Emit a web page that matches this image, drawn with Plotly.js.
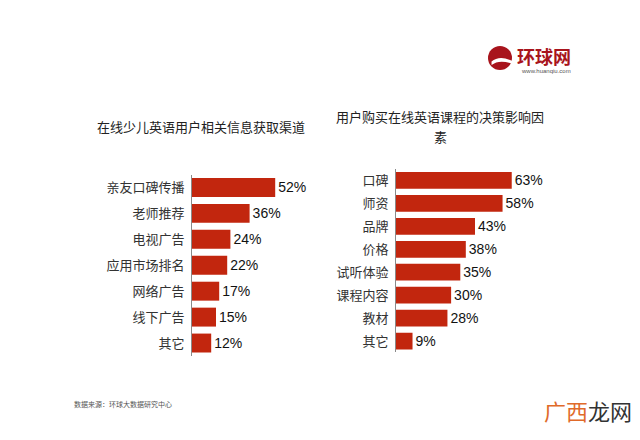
<!DOCTYPE html>
<html><head><meta charset="utf-8">
<script src="https://cdn.plot.ly/plotly-3.0.1.min.js"></script>
<style>html,body{margin:0;padding:0;background:#fff}</style>
</head><body><div id="chart" style="width:640px;height:440px"></div>
<script>
const leftCategories = ["亲友口碑传播","老师推荐","电视广告","应用市场排名","网络广告","线下广告","其它"];
const leftValues = [52,36,24,22,17,15,12];
const rightCategories = ["口碑","师资","品牌","价格","试听体验","课程内容","教材","其它"];
const rightValues = [63,58,43,38,35,30,28,9];
const leftTitle = "在线少儿英语用户相关信息获取渠道";
const rightTitleLine1 = "用户购买在线英语课程的决策影响因";
const rightTitleLine2 = "素";
const sourceText = "数据来源：环球大数据研究中心";

const barColor = "#C2260E";
const cjk = "'Noto Sans CJK SC', sans-serif";
const latin = "'Liberation Sans', Arial, sans-serif";

const traces = [
  {type:"bar", orientation:"h", y:leftCategories, x:leftValues, xaxis:"x", yaxis:"y",
   marker:{color:barColor}, text:leftValues.map(v=>v+"%"), textposition:"outside",
   textfont:{family:latin,size:14,color:"#111"}, cliponaxis:false, hoverinfo:"none"},
  {type:"bar", orientation:"h", y:rightCategories, x:rightValues, xaxis:"x2", yaxis:"y2",
   marker:{color:barColor}, text:rightValues.map(v=>v+"%"), textposition:"outside",
   textfont:{family:latin,size:14,color:"#111"}, cliponaxis:false, hoverinfo:"none"}
];

const yCommon = {autorange:"reversed", showline:true, linecolor:"#8a8a8a", linewidth:1,
  showgrid:false, zeroline:false, ticks:"", ticklabelstandoff:4,
  tickfont:{family:cjk,size:13,color:"#333"}, fixedrange:true};
const xCommon = {visible:false, showgrid:false, zeroline:false, fixedrange:true};

const layout = {
  width:640, height:440, margin:{l:0,r:0,t:0,b:0},
  paper_bgcolor:"#fff", plot_bgcolor:"rgba(0,0,0,0)", showlegend:false,
  bargap:0.27,
  xaxis:Object.assign({}, xCommon, {domain:[0.3,0.475], range:[0,70], anchor:"y"}),
  yaxis:Object.assign({}, yCommon, {domain:[0.1909,0.6034], anchor:"x"}),
  xaxis2:Object.assign({}, xCommon, {domain:[0.61875,0.8484], range:[0,80], anchor:"y2"}),
  yaxis2:Object.assign({}, yCommon, {domain:[0.1989,0.6159], anchor:"x2"}),
  shapes:[
    {type:"circle", xref:"paper", yref:"paper", x0:488/640, x1:512/640, y0:1-70/440, y1:1-46/440,
     fillcolor:"#A8141C", line:{width:0}},
    {type:"path", xref:"paper", yref:"paper",
     path:"M 0.768 0.86 Q 0.78 0.875 0.80 0.862 L 0.80 0.855 Q 0.78 0.866 0.768 0.852 Z",
     fillcolor:"#fff", line:{width:0}}
  ],
  annotations:[
    {text:leftTitle, xref:"paper", yref:"paper", x:201/640, y:1-127/440, showarrow:false,
     font:{family:cjk,size:13,color:"#222"}, xanchor:"center", yanchor:"middle"},
    {text:rightTitleLine1, xref:"paper", yref:"paper", x:440/640, y:1-117/440, showarrow:false,
     font:{family:cjk,size:13,color:"#222"}, xanchor:"center", yanchor:"middle"},
    {text:rightTitleLine2, xref:"paper", yref:"paper", x:440/640, y:1-137/440, showarrow:false,
     font:{family:cjk,size:13,color:"#222"}, xanchor:"center", yanchor:"middle"},
    {text:sourceText, xref:"paper", yref:"paper", x:72/640, y:1-404/440, showarrow:false,
     font:{family:cjk,size:7,color:"#555"}, xanchor:"left", yanchor:"middle"},
    {text:"<b>环球网</b>", xref:"paper", yref:"paper", x:515/640, y:1-56/440, showarrow:false,
     font:{family:cjk,size:18,color:"#A8141C"}, xanchor:"left", yanchor:"middle"},
    {text:"www.huanqiu.com", xref:"paper", yref:"paper", x:519/640, y:1-71/440, showarrow:false,
     font:{family:latin,size:6,color:"#555"}, xanchor:"left", yanchor:"middle"},
    {text:"<span style='color:#E06A2A'>广西</span><span style='color:#333'>龙网</span>", xref:"paper", yref:"paper",
     x:588/640, y:1-410/440, showarrow:false,
     font:{family:cjk,size:22,color:"#333"}, xanchor:"center", yanchor:"middle"}
  ]
};

Plotly.newPlot("chart", traces, layout, {displayModeBar:false, staticPlot:true});
</script></body></html>
